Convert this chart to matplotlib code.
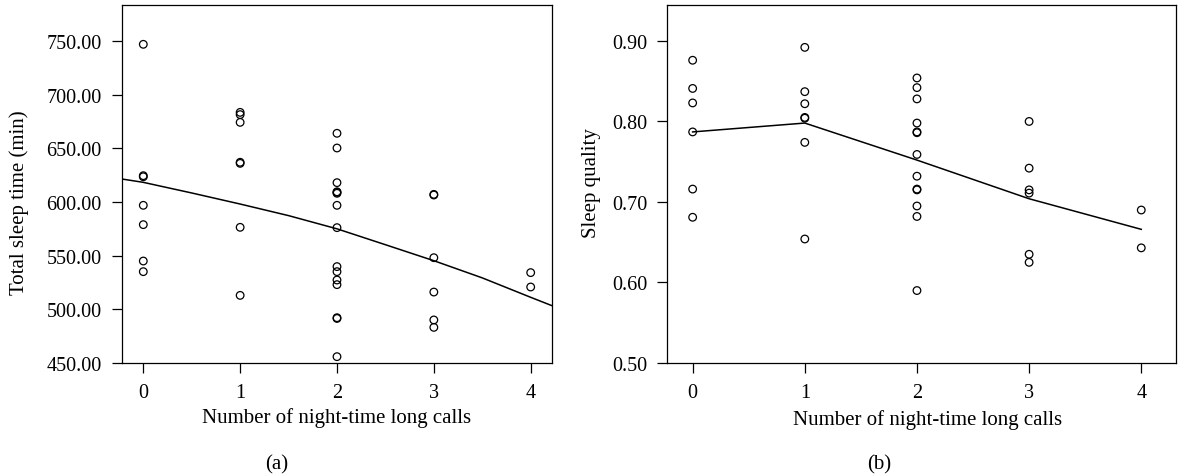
import matplotlib
matplotlib.use("Agg")
import matplotlib.pyplot as plt

plt.rcParams["font.family"] = ["Liberation Serif", "DejaVu Serif"]

# ---- (a) total sleep time vs number of night-time long calls ----
calls_a = [0, 0, 0, 0, 0, 0, 0,
           1, 1, 1, 1, 1, 1, 1,
           2, 2, 2, 2, 2, 2, 2, 2, 2, 2, 2, 2, 2, 2, 2,
           3, 3, 3, 3, 3, 3,
           4, 4]
sleep_time = [746.9, 624.5, 623.5, 596.9, 578.9, 545.0, 535.1,
              683.5, 681.4, 674.2, 637.0, 636.0, 576.4, 513.0,
              664.0, 650.3, 618.0, 609.0, 608.1, 596.9, 576.1, 539.8, 535.1,
              527.3, 523.0, 492.2, 491.5, 455.9, 609.5,
              607.1, 606.5, 548.1, 516.1, 490.1, 483.2,
              534.2, 520.8]
# fitted curve
fit_x_a = [-0.22, 0, 0.5, 1, 1.5, 2, 2.5, 3, 3.5, 4, 4.22]
fit_y_a = [621.4, 618.3, 608.4, 598.1, 587.3, 575.0, 560.2, 545.3, 529.3, 511.2, 503.4]

# ---- (b) sleep quality vs number of night-time long calls ----
calls_b = [0, 0, 0, 0, 0, 0,
           1, 1, 1, 1, 1, 1, 1,
           2, 2, 2, 2, 2, 2, 2, 2, 2, 2, 2, 2, 2,
           3, 3, 3, 3, 3, 3,
           4, 4]
quality = [0.876, 0.841, 0.823, 0.787, 0.716, 0.681,
           0.892, 0.837, 0.822, 0.805, 0.804, 0.774, 0.654,
           0.854, 0.842, 0.828, 0.798, 0.787, 0.786, 0.759, 0.732, 0.716, 0.715,
           0.695, 0.682, 0.590,
           0.800, 0.742, 0.715, 0.711, 0.635, 0.625,
           0.690, 0.643]
fit_x_b = [0, 1, 2, 3, 4]
fit_y_b = [0.787, 0.798, 0.752, 0.704, 0.666]

W, H = 1184, 477
FS = 15

fig = plt.figure(figsize=(W / 100, H / 100), dpi=100)
ax1 = fig.add_axes([121.7 / W, 1 - 364 / H, 430 / W, 358.3 / H])
ax2 = fig.add_axes([667.3 / W, 1 - 364 / H, 508.4 / W, 358.3 / H])

for ax, xs, ys, fx, fy in [(ax1, calls_a, sleep_time, fit_x_a, fit_y_a),
                           (ax2, calls_b, quality, fit_x_b, fit_y_b)]:
    ax.scatter(xs, ys, s=30, facecolors="none", edgecolors="black",
               linewidths=0.9, zorder=3)
    ax.plot(fx, fy, color="black", linewidth=1.1, zorder=2)
    ax.set_xticks([0, 1, 2, 3, 4])
    ax.tick_params(direction="out", length=7.5, width=0.9, labelsize=14.5,
                   colors="black")
    ax.tick_params(axis="y", pad=7)
    ax.tick_params(axis="x", pad=7)
    for sp in ax.spines.values():
        sp.set_linewidth(0.9)

ax1.set_xlim(-0.223, 4.217)
ax1.set_ylim(450, 783.8)
ax1.set_yticks([450, 500, 550, 600, 650, 700, 750])
ax1.set_yticklabels([f"{v:.2f}" for v in [450, 500, 550, 600, 650, 700, 750]])

ax2.set_xlim(-0.226, 4.307)
ax2.set_ylim(0.50, 0.945)
ax2.set_yticks([0.5, 0.6, 0.7, 0.8, 0.9])
ax2.set_yticklabels([f"{v:.2f}" for v in [0.5, 0.6, 0.7, 0.8, 0.9]])

# axis titles and panel letters
fig.text(19 / W, 1 - 203 / H, "Total sleep time (min)", rotation=90,
         ha="center", va="center", fontsize=FS)
fig.text(591.7 / W, 1 - 183 / H, "Sleep quality", rotation=90,
         ha="center", va="center", fontsize=FS)
fig.text(336.7 / W, 1 - 418 / H, "Number of night-time long calls",
         ha="center", va="center", fontsize=FS)
fig.text(928 / W, 1 - 420 / H, "Number of night-time long calls",
         ha="center", va="center", fontsize=FS)
fig.text(276.7 / W, 1 - 465 / H, "(a)", ha="center", va="center", fontsize=FS)
fig.text(879 / W, 1 - 465 / H, "(b)", ha="center", va="center", fontsize=FS)

fig.savefig("out.png", dpi=100)
plt.close(fig)
